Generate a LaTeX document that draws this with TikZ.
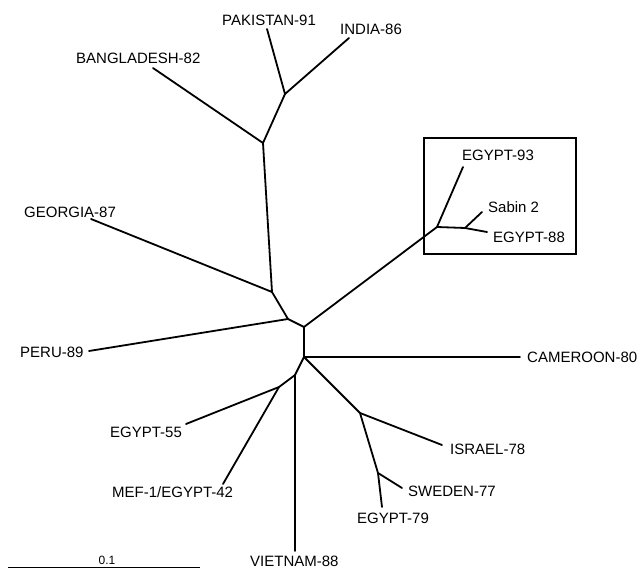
\documentclass[tikz,border=0pt]{standalone}
\usepackage{fontspec}
\setmainfont{Liberation Sans}
\begin{document}
\begin{tikzpicture}[x=1pt,y=-1pt,
  branch/.style={line width=1.8pt,line join=round,line cap=round},
  lbl/.style={anchor=west,inner sep=0pt,font=\fontsize{15}{15}\selectfont,text height=10.7pt,text depth=0pt},
  boxframe/.style={line width=1.3pt}]
\useasboundingbox (0,0) rectangle (638,569);
% junctions
\coordinate (jPI) at (285,94);
\coordinate (jB) at (263,143);
\coordinate (jG) at (272,292);
\coordinate (jP) at (288,319);
\coordinate (jC1) at (304,327);
\coordinate (jE) at (437,227);
\coordinate (jS) at (465,228);
\coordinate (jC2) at (304,357);
\coordinate (jV) at (295,375);
\coordinate (jM) at (279,387);
\coordinate (jI) at (360,413);
\coordinate (jSw) at (378,473);
% leaf ends
\coordinate (ePak) at (267,29);
\coordinate (eInd) at (349,38);
\coordinate (eBan) at (153,68);
\coordinate (eGeo) at (91,219);
\coordinate (ePer) at (89,351);
\coordinate (eE93) at (463,167);
\coordinate (eSab) at (482,212);
\coordinate (eE88) at (487,232);
\coordinate (eCam) at (520,357);
\coordinate (eVie) at (295,551);
\coordinate (eE55) at (186,424);
\coordinate (eMef) at (223,484);
\coordinate (eIsr) at (442,445);
\coordinate (eSwe) at (402,488);
\coordinate (eE79) at (382,507);
% labels
\node[lbl] (lPak) at (222,20) {PAKISTAN-91};
\node[lbl] (lInd) at (340,29) {INDIA-86};
\node[lbl] (lBan) at (76,58) {BANGLADESH-82};
\node[lbl] (lGeo) at (24,212) {GEORGIA-87};
\node[lbl] (lPer) at (20,352) {PERU-89};
\node[lbl] (lE93) at (462,155) {EGYPT-93};
\node[lbl] (lSab) at (488,207) {Sabin 2};
\node[lbl] (lE88) at (493,237) {EGYPT-88};
\node[lbl] (lCam) at (527,357) {CAMEROON-80};
\node[lbl] (lE55) at (110,432) {EGYPT-55};
\node[lbl] (lMef) at (112,492) {MEF-1/EGYPT-42};
\node[lbl] (lIsr) at (450,449) {ISRAEL-78};
\node[lbl] (lSwe) at (408,491) {SWEDEN-77};
\node[lbl] (lE79) at (357,518) {EGYPT-79};
\node[lbl] (lVie) at (250,561) {VIETNAM-88};
% box
\draw[boxframe] (424,138) rectangle (576,254);
% branches
\draw[branch] (ePak) -- (jPI) -- (eInd);
\draw[branch] (jPI) -- (jB) -- (eBan);
\draw[branch] (jB) -- (jG) -- (eGeo);
\draw[branch] (jG) -- (jP) -- (ePer);
\draw[branch] (jP) -- (jC1) -- (jE);
\draw[branch] (eE93) -- (jE) -- (jS) -- (eSab);
\draw[branch] (jS) -- (eE88);
\draw[branch] (jC1) -- (jC2) -- (eCam);
\draw[branch] (jC2) -- (jV) -- (eVie);
\draw[branch] (jV) -- (jM) -- (eE55);
\draw[branch] (jM) -- (eMef);
\draw[branch] (jC2) -- (jI) -- (eIsr);
\draw[branch] (jI) -- (jSw) -- (eSwe);
\draw[branch] (jSw) -- (eE79);
% scale bar
\coordinate (sbA) at (8,567.5);
\coordinate (sbB) at (200,567.5);
\draw[line width=1.3pt] (sbA) -- (sbB);
\node[inner sep=0pt,font=\fontsize{12}{12}\selectfont,text height=8.6pt,text depth=0pt] (sbl) at (107,560) {0.1};
\end{tikzpicture}
\end{document}
